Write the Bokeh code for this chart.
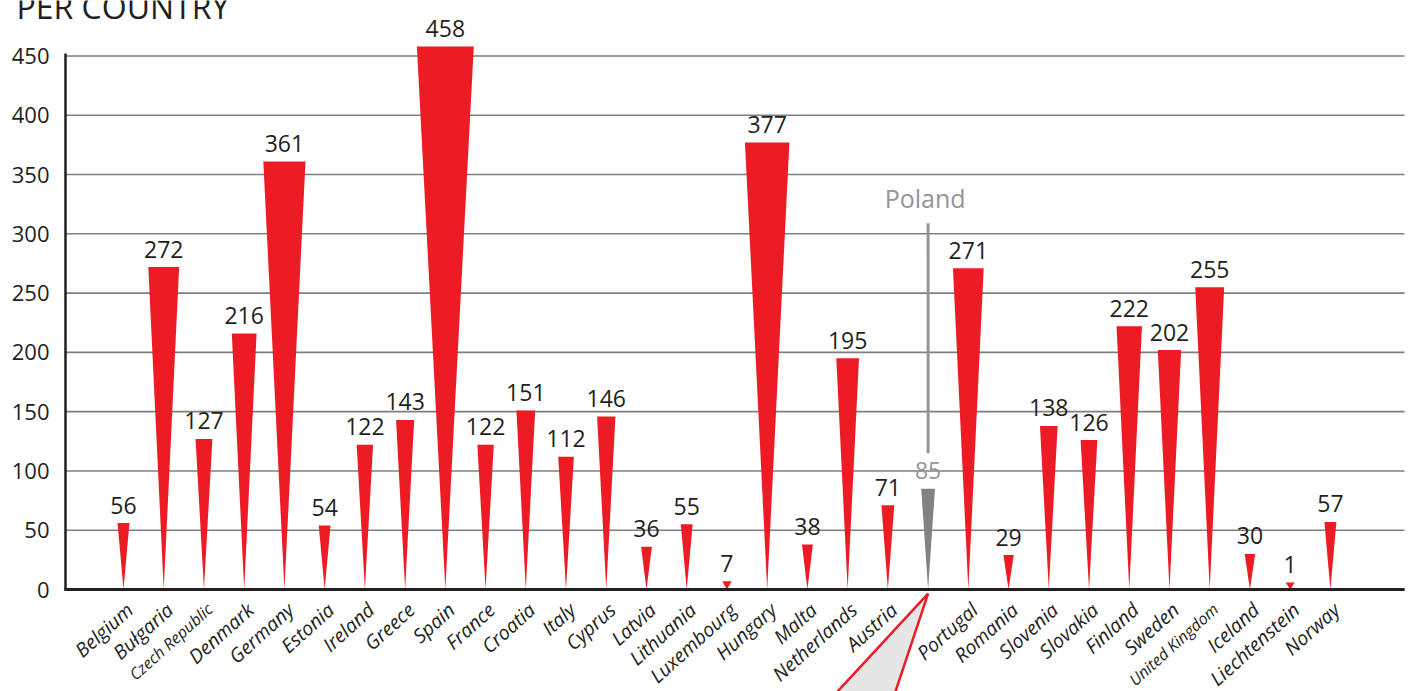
import math
from bokeh.plotting import figure
from bokeh.models import Range1d, ColumnDataSource
from bokeh.core.properties import value
from bokeh.embed import file_html
from bokeh.resources import INLINE

# ---- data ----
countries = ["Belgium", "Bułgaria", "Czech Republic", "Denmark", "Germany", "Estonia",
             "Ireland", "Greece", "Spain", "France", "Croatia", "Italy", "Cyprus",
             "Latvia", "Lithuania", "Luxembourg", "Hungary", "Malta", "Netherlands",
             "Austria", "Poland", "Portugal", "Romania", "Slovenia", "Slovakia",
             "Finland", "Sweden", "United Kingdom", "Iceland", "Liechtenstein", "Norway"]
values = [56, 272, 127, 216, 361, 54, 122, 143, 458, 122, 151, 112, 146, 36, 55, 7,
          377, 38, 195, 71, 85, 271, 29, 138, 126, 222, 202, 255, 30, 1, 57]
y_ticks = [0, 50, 100, 150, 200, 250, 300, 350, 400, 450]
highlight = "Poland"
small_labels = ["Czech Republic", "United Kingdom"]
title_text = "PER COUNTRY"

# ---- styling ----
RED = "#ed1c24"
GREY_BAR = "#808285"
GREY_TXT = "#939598"
GRID = "#7f7f7f"
DARK = "#231f20"
FONT = "Open Sans"
PX_PER_UNIT = 40.23      # horizontal pixels per category step
MIN_VISIBLE = 6          # smallest drawn marker height (value units)

AX_LEFT, AX_RIGHT = -1.4417, 31.842   # plot area edges (category units)
AX_TOP = 452

def width_units(v):
    px = 9 + 0.045 * v + 0.00013 * v * v
    return px / PX_PER_UNIT

idx = list(range(len(countries)))
xs, ys, colors, lab_colors, lab_sizes, tops, shown = [], [], [], [], [], [], []
for i, (c, v) in enumerate(zip(countries, values)):
    w = width_units(v)
    top = max(v, MIN_VISIBLE)
    tops.append(top)
    xs.append([i - w / 2, i + w / 2, i])
    ys.append([top, top, 0])
    colors.append(GREY_BAR if c == highlight else RED)
    lab_colors.append(GREY_TXT if c == highlight else DARK)
    lab_sizes.append("16px" if c in small_labels else "19.5px")
    shown.append("" if c == highlight else c)   # highlighted country is named by the call-out

src = ColumnDataSource(dict(x=idx, top=tops, txt=[str(v) for v in values],
                            name=shown, lc=lab_colors, ls=lab_sizes))

p = figure(width=1413, height=691,
           x_range=Range1d(-3.0574, 32.0656), y_range=Range1d(-86.03, 496.79),
           output_backend="svg", toolbar_location=None,
           x_axis_location=None, y_axis_location=None,
           min_border_left=0, min_border_right=0, min_border_top=0, min_border_bottom=0)
p.outline_line_color = None
p.background_fill_color = "white"
p.border_fill_color = "white"
p.grid.visible = False

# gridlines
p.segment(x0=[AX_LEFT] * len(y_ticks), x1=[AX_RIGHT] * len(y_ticks),
          y0=y_ticks, y1=y_ticks, line_color=GRID, line_width=1.6)

# y tick labels
p.text(x=[AX_LEFT] * len(y_ticks), y=y_ticks, text=[str(t) for t in y_ticks],
       x_offset=-16, text_align="right", text_baseline="middle",
       text_font=value(FONT), text_font_size="22px", text_color=DARK)

# Poland call-out pointer (decorative)
pi = countries.index(highlight)
p.patch(x=[pi, pi - 2.36, pi - 0.85], y=[-3.4, -90, -90],
        fill_color="#e6e6e6", line_color=RED, line_width=2.5)

# bars
p.patches(xs=xs, ys=ys, fill_color=colors, line_color=None)

# axes lines
p.segment(x0=[AX_LEFT], y0=[0], x1=[AX_LEFT], y1=[AX_TOP], line_color=DARK, line_width=2.5)
p.segment(x0=[AX_LEFT - 0.03], y0=[0], x1=[AX_RIGHT], y1=[0], line_color=DARK, line_width=3)

# value labels
p.text(x="x", y="top", text="txt", source=src, y_offset=-18,
       text_align="center", text_baseline="middle",
       text_font=value(FONT), text_font_size="23px", text_color="lc")

# country labels
p.text(x="x", y=-14.3, text="name", source=src, x_offset=6,
       angle=math.radians(42), text_align="right", text_baseline="alphabetic",
       text_font=value(FONT), text_font_style="italic",
       text_font_size="ls", text_color=DARK)

# Poland marker line and name
p.segment(x0=[pi], y0=[115], x1=[pi], y1=[309], line_color=GREY_TXT, line_width=3)
p.text(x=[pi], y=[330], text=[highlight], x_offset=-3,
       text_align="center", text_baseline="middle",
       text_font=value(FONT), text_font_size="25px", text_color=GREY_TXT)

# title (cut off at the top like the reference)
p.text(x=[-2.66], y=[491.5], text=[title_text], text_align="left", text_baseline="middle",
       text_font=value(FONT), text_font_size="32px", text_color=DARK)

open("out.html", "w").write(file_html(p, INLINE))
